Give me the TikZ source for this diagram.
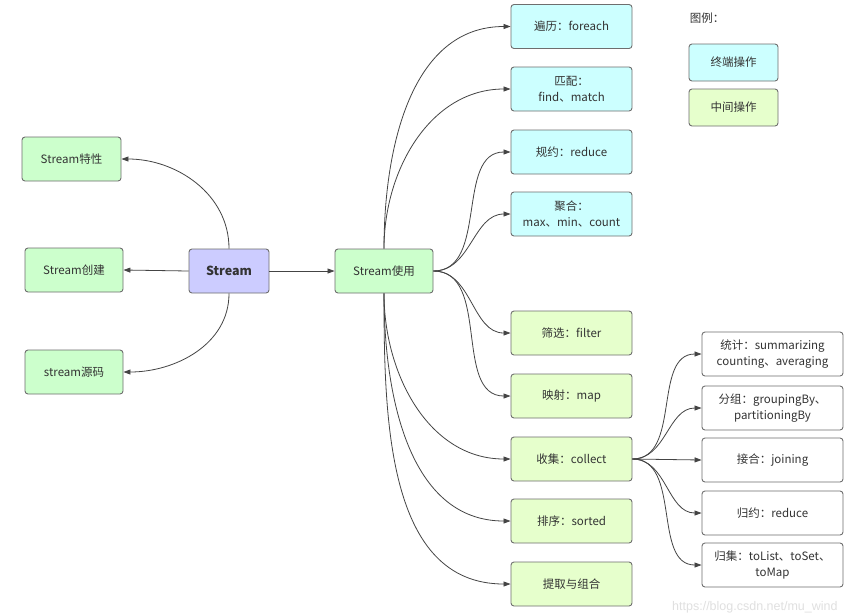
\documentclass[tikz,border=0pt]{standalone}
\usepackage{fontspec}
\setmainfont{Noto Sans CJK SC}
\newfontfamily\wmfont{Liberation Sans}
\usetikzlibrary{arrows.meta}
\definecolor{cgreen}{HTML}{CCFFCC}
\definecolor{ccyan}{HTML}{CCFFFF}
\definecolor{cyell}{HTML}{E6FFCC}
\definecolor{cpurp}{HTML}{CCCCFF}
\definecolor{cbord}{HTML}{6E6E6E}
\definecolor{cline}{HTML}{444444}
\definecolor{ctext}{HTML}{333333}
\tikzset{
  box/.style={draw=cbord, line width=0.9pt, rounded corners=3pt, inner sep=1pt,
    align=center, text=ctext, font=\fontsize{11.5}{16}\selectfont},
  leftbox/.style={box, fill=cgreen, minimum width=99pt, minimum height=44pt},
  midbox/.style={box, fill=cyell, minimum width=121pt, minimum height=44pt},
  termbox/.style={box, fill=ccyan, minimum width=121pt, minimum height=44pt},
  rightbox/.style={box, fill=white, minimum width=141pt, minimum height=44pt},
  legbox/.style={box, minimum width=89pt, minimum height=37pt},
  conn/.style={draw=cline, line width=0.8pt, -{Triangle[length=7pt,width=5pt]}}
}
\begin{document}
\begin{tikzpicture}[x=1pt,y=-1pt]
\useasboundingbox (0,0) rectangle (858,614);
\fill[white] (0,0) rectangle (858,614);
% left
\node[leftbox, minimum width=99pt] (a1) at (71.5,159) {Stream特性};
\node[leftbox, minimum width=98pt] (a2) at (74,270) {Stream创建};
\node[leftbox, minimum width=98pt] (a3) at (74,372) {stream源码};
\node[box, fill=cpurp, minimum width=80pt, minimum height=44pt, font=\fontsize{12.5}{15}\selectfont\bfseries] (s) at (229,271) {Stream};
\node[leftbox, minimum width=98pt] (u) at (384,271) {Stream使用};
% terminal ops
\node[termbox] (t1) at (571.5,26.5) {遍历：foreach};
\node[termbox] (t2) at (571.5,89) {匹配：\\find、match};
\node[termbox] (t3) at (571.5,152) {规约：reduce};
\node[termbox] (t4) at (571.5,214) {聚合：\\max、min、count};
% intermediate ops
\node[midbox] (m1) at (571.5,333) {筛选：filter};
\node[midbox] (m2) at (571.5,396) {映射：map};
\node[midbox] (m3) at (571.5,459) {收集：collect};
\node[midbox] (m4) at (571.5,521) {排序：sorted};
\node[midbox] (m5) at (571.5,584) {提取与组合};
% collect children
\node[rightbox] (c1) at (772.5,354) {统计：summarizing\\counting、averaging};
\node[rightbox] (c2) at (772.5,408) {分组：groupingBy、\\partitioningBy};
\node[rightbox] (c3) at (772.5,460) {接合：joining};
\node[rightbox] (c4) at (772.5,513) {归约：reduce};
\node[rightbox] (c5) at (772.5,565) {归集：toList、toSet、\\toMap};
% legend
\node[text=ctext, font=\fontsize{11.5}{14}\selectfont] (lg) at (707,18) {图例：};
\node[legbox, fill=ccyan] (l1) at (733.5,62.5) {终端操作};
\node[legbox, fill=cyell] (l2) at (733.5,107.5) {中间操作};
% watermark
\node[anchor=south west, inner sep=0pt, text=black!12, font=\wmfont\fontsize{12.5}{12.5}\selectfont] (wm) at (672,613) {https://blog.csdn.net/mu\_wind};
% connectors
\draw[conn] (s.north) to[out=90,in=0] (a1.east);
\draw[conn] (s.west) -- (a2.east);
\draw[conn] (s.south) to[out=-90,in=0] (a3.east);
\draw[conn] (s.east) -- (u.west);
\draw[conn] (u.north) to[out=90,in=180] (t1.west);
\draw[conn] (u.north) to[out=90,in=180] (t2.west);
\draw[conn] (u.east) to[out=0,in=180] (t3.west);
\draw[conn] (u.east) to[out=0,in=180] (t4.west);
\draw[conn] (u.east) to[out=0,in=180] (m1.west);
\draw[conn] (u.east) to[out=0,in=180] (m2.west);
\draw[conn] (u.south) to[out=-90,in=180] (m3.west);
\draw[conn] (u.south) to[out=-90,in=180] (m4.west);
\draw[conn] (u.south) to[out=-90,in=180] (m5.west);
\draw[conn] (m3.east) to[out=0,in=180] (c1.west);
\draw[conn] (m3.east) to[out=0,in=180] (c2.west);
\draw[conn] (m3.east) -- (c3.west);
\draw[conn] (m3.east) to[out=0,in=180] (c4.west);
\draw[conn] (m3.east) to[out=0,in=180] (c5.west);
\end{tikzpicture}
\end{document}
